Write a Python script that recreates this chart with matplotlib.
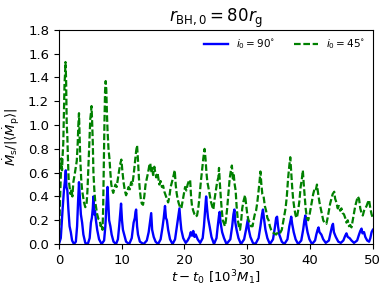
import numpy as np
import matplotlib
matplotlib.use("Agg")
from matplotlib import pyplot as plt

# i0 = 90 deg (solid blue)
t_90 = [0.0, 0.3, 0.6, 0.8, 1.0, 1.1, 1.2, 1.35, 1.5, 1.7, 1.9, 2.1, 2.4,
        2.7, 2.9, 3.05, 3.2, 3.35, 3.5, 3.7, 3.9, 4.2, 4.6,
        4.9, 5.1, 5.25, 5.4, 5.5, 5.6, 5.75, 5.9, 6.1, 6.4, 6.8,
        7.2, 7.4, 7.6, 7.75, 7.9, 8.0, 8.2, 8.4, 8.7, 9.1,
        9.4, 9.6, 9.8, 9.9, 10.05, 10.2, 10.4, 10.7, 11.2,
        11.6, 11.9, 12.1, 12.2, 12.3, 12.45, 12.6, 12.9, 13.5,
        14.0, 14.3, 14.55, 14.7, 14.85, 15.1, 15.4, 15.8,
        16.2, 16.5, 16.7, 16.9, 17.05, 17.2, 17.4, 17.7, 18.1,
        18.5, 18.8, 19.0, 19.2, 19.35, 19.5, 19.8, 20.2, 20.5,
        20.8, 21.0, 21.2, 21.4, 21.6, 21.8, 22.1, 22.5,
        22.9, 23.1, 23.3, 23.45, 23.6, 23.75, 24.0, 24.3, 24.7,
        25.1, 25.3, 25.5, 25.6, 25.75, 26.0, 26.3, 26.7,
        27.3, 27.6, 27.8, 27.95, 28.1, 28.3, 28.6, 29.0,
        29.5, 29.8, 30.0, 30.1, 30.25, 30.5, 30.9, 31.3,
        31.8, 32.1, 32.35, 32.5, 32.65, 32.9, 33.2, 33.6,
        34.1, 34.4, 34.6, 34.75, 34.9, 35.1, 35.5, 35.9,
        36.4, 36.7, 36.9, 37.0, 37.15, 37.4, 37.7, 38.1,
        38.6, 38.9, 39.1, 39.25, 39.4, 39.6, 39.9, 40.3,
        40.8, 41.0, 41.2, 41.35, 41.5, 41.8, 42.1, 42.5,
        43.0, 43.3, 43.5, 43.65, 43.8, 44.1, 44.5, 44.9,
        45.3, 45.6, 45.8, 46.0, 46.3, 46.6, 47.0,
        47.5, 47.8, 48.0, 48.2, 48.35, 48.6, 48.8, 49.1, 49.4,
        49.6, 49.8, 50.0]
m_90 = [0.0, 0.05, 0.3, 0.45, 0.55, 0.62, 0.48, 0.45, 0.3, 0.15, 0.1, 0.03, 0.0,
        0.02, 0.15, 0.35, 0.52, 0.38, 0.25, 0.18, 0.08, 0.01, 0.0,
        0.05, 0.18, 0.22, 0.3, 0.40, 0.25, 0.28, 0.2, 0.12, 0.04, 0.0,
        0.03, 0.15, 0.35, 0.48, 0.3, 0.2, 0.15, 0.08, 0.02, 0.0,
        0.04, 0.15, 0.28, 0.34, 0.2, 0.12, 0.08, 0.02, 0.0,
        0.05, 0.18, 0.22, 0.27, 0.29, 0.15, 0.08, 0.02, 0.0,
        0.03, 0.1, 0.2, 0.26, 0.12, 0.06, 0.02, 0.0,
        0.04, 0.14, 0.22, 0.32, 0.22, 0.2, 0.12, 0.04, 0.0,
        0.04, 0.15, 0.22, 0.30, 0.2, 0.12, 0.05, 0.01, 0.03,
        0.06, 0.1, 0.07, 0.11, 0.06, 0.08, 0.04, 0.01,
        0.05, 0.15, 0.3, 0.40, 0.3, 0.22, 0.15, 0.06, 0.0,
        0.05, 0.15, 0.24, 0.27, 0.18, 0.1, 0.05, 0.0,
        0.04, 0.15, 0.25, 0.29, 0.18, 0.12, 0.05, 0.0,
        0.04, 0.12, 0.18, 0.21, 0.12, 0.06, 0.01, 0.0,
        0.05, 0.15, 0.25, 0.29, 0.22, 0.12, 0.05, 0.0,
        0.04, 0.14, 0.22, 0.23, 0.15, 0.08, 0.02, 0.0,
        0.04, 0.15, 0.2, 0.23, 0.17, 0.1, 0.04, 0.0,
        0.03, 0.12, 0.2, 0.24, 0.16, 0.1, 0.04, 0.0,
        0.03, 0.08, 0.12, 0.14, 0.1, 0.08, 0.04, 0.01,
        0.03, 0.1, 0.15, 0.17, 0.1, 0.06, 0.02, 0.01,
        0.03, 0.07, 0.09, 0.06, 0.05, 0.03, 0.01,
        0.03, 0.08, 0.11, 0.13, 0.09, 0.1, 0.06, 0.03, 0.02,
        0.05, 0.1, 0.12]

# i0 = 45 deg (dashed green)
t_45 = [0.0, 0.1, 0.2, 0.3, 0.4, 0.5, 0.6, 0.7, 0.8, 0.9, 1.0, 1.05, 1.15, 1.25,
        1.35, 1.45, 1.55, 1.7, 1.85, 2.0, 2.15, 2.3, 2.5, 2.7, 2.85, 3.0, 3.1,
        3.2, 3.3, 3.4, 3.55, 3.7, 3.85, 4.0, 4.2, 4.4, 4.55, 4.7, 4.85, 5.0,
        5.1, 5.2, 5.3, 5.4, 5.5, 5.65, 5.8, 5.95, 6.1, 6.3, 6.5, 6.65, 6.8,
        6.95, 7.05, 7.15, 7.25, 7.35, 7.45, 7.55, 7.65, 7.75, 7.9, 8.05, 8.2,
        8.35, 8.5, 8.65, 8.8, 9.0, 9.2, 9.4, 9.6, 9.8, 9.95, 10.1, 10.3, 10.5,
        10.7, 10.9, 11.1, 11.3, 11.5, 11.7, 11.9, 12.1, 12.3, 12.45, 12.6,
        12.75, 12.9, 13.05, 13.2, 13.4, 13.6, 13.8, 14.0, 14.2, 14.4, 14.55,
        14.7, 14.85, 15.0, 15.2, 15.35, 15.5, 15.7, 15.85, 16.0, 16.2, 16.4,
        16.6, 16.8, 17.0, 17.2, 17.4, 17.6, 17.8, 18.0, 18.2, 18.45, 18.6,
        18.75, 18.9, 19.1, 19.3, 19.5, 19.7, 19.9, 20.1, 20.3, 20.5, 20.7,
        20.9, 21.05, 21.2, 21.4, 21.6, 21.8, 22.0, 22.2, 22.4, 22.6, 22.8,
        23.0, 23.2, 23.35, 23.5, 23.65, 23.8, 24.0, 24.2, 24.4, 24.6, 24.8,
        25.0, 25.2, 25.4, 25.5, 25.65, 25.8, 25.95, 26.1, 26.3, 26.45, 26.6,
        26.8, 27.0, 27.2, 27.4, 27.55, 27.7, 27.85, 28.0, 28.15, 28.3, 28.5,
        28.7, 28.85, 29.0, 29.2, 29.4, 29.65, 29.85, 30.0, 30.2, 30.4, 30.6,
        30.85, 31.0, 31.2, 31.4, 31.6, 31.8, 31.95, 32.1, 32.25, 32.4, 32.6,
        32.8, 33.0, 33.2, 33.4, 33.6, 33.8, 34.0, 34.3, 34.6, 34.9, 35.2,
        35.5, 35.7, 35.9, 36.1, 36.3, 36.5, 36.7, 36.85, 37.0, 37.15, 37.3,
        37.5, 37.7, 37.9, 38.1, 38.3, 38.5, 38.7, 38.85, 39.0, 39.15, 39.3,
        39.5, 39.7, 39.9, 40.1, 40.3, 40.5, 40.7, 40.9, 41.1, 41.3, 41.5,
        41.7, 41.9, 42.1, 42.3, 42.6, 42.8, 43.0, 43.2, 43.4, 43.6, 43.85,
        44.0, 44.2, 44.4, 44.6, 44.8, 45.0, 45.2, 45.4, 45.6, 45.8, 46.0,
        46.2, 46.4, 46.6, 46.8, 47.0, 47.2, 47.4, 47.6, 47.8, 48.0, 48.2,
        48.4, 48.6, 48.8, 49.0, 49.2, 49.4, 49.6, 49.8, 50.0]
m_45 = [0.0, 0.2, 0.4, 0.55, 0.72, 0.62, 0.75, 0.85, 1.1, 1.35, 1.45, 1.53, 1.38, 1.0,
        0.9, 0.7, 0.55, 0.48, 0.42, 0.46, 0.4, 0.52, 0.58, 0.65, 0.7, 0.85, 1.0,
        1.1, 0.9, 0.72, 0.55, 0.45, 0.4, 0.35, 0.31, 0.33, 0.45, 0.65, 0.85, 1.05,
        1.1, 1.16, 1.02, 0.85, 0.6, 0.45, 0.35, 0.3, 0.25, 0.21, 0.2, 0.15, 0.17,
        0.12, 0.3, 0.65, 1.0, 1.28, 1.37, 1.3, 1.1, 0.95, 0.8, 0.72, 0.6,
        0.5, 0.46, 0.43, 0.46, 0.5, 0.48, 0.55, 0.62, 0.68, 0.71, 0.62, 0.52, 0.45,
        0.41, 0.44, 0.48, 0.46, 0.52, 0.5, 0.58, 0.68, 0.78, 0.83, 0.7,
        0.55, 0.45, 0.38, 0.34, 0.33, 0.4, 0.5, 0.55, 0.6, 0.66, 0.68,
        0.6, 0.64, 0.58, 0.65, 0.6, 0.56, 0.6, 0.55, 0.5, 0.53, 0.48,
        0.49, 0.44, 0.41, 0.38, 0.35, 0.4, 0.48, 0.52, 0.56, 0.62, 0.5,
        0.43, 0.38, 0.34, 0.31, 0.3, 0.36, 0.42, 0.48, 0.45, 0.5, 0.53,
        0.54, 0.4, 0.32, 0.28, 0.25, 0.23, 0.24, 0.3, 0.4, 0.52, 0.62,
        0.72, 0.8, 0.72, 0.6, 0.52, 0.48, 0.42, 0.36, 0.32, 0.29, 0.38,
        0.45, 0.52, 0.56, 0.64, 0.5, 0.38, 0.28, 0.2, 0.17, 0.15, 0.2,
        0.3, 0.42, 0.55, 0.62, 0.66, 0.55, 0.58, 0.5, 0.45, 0.32, 0.2,
        0.14, 0.12, 0.18, 0.3, 0.36, 0.41, 0.32, 0.25, 0.2, 0.18, 0.15,
        0.15, 0.2, 0.25, 0.28, 0.35, 0.45, 0.52, 0.61, 0.5, 0.42, 0.4,
        0.32, 0.28, 0.22, 0.2, 0.15, 0.12, 0.1, 0.09, 0.08, 0.1, 0.09,
        0.12, 0.18, 0.24, 0.3, 0.4, 0.55, 0.66, 0.73, 0.6, 0.48, 0.38,
        0.3, 0.24, 0.22, 0.28, 0.36, 0.48, 0.55, 0.62, 0.5, 0.4, 0.3,
        0.22, 0.2, 0.24, 0.3, 0.36, 0.42, 0.46, 0.45, 0.5, 0.42, 0.35,
        0.3, 0.25, 0.2, 0.18, 0.17, 0.22, 0.28, 0.34, 0.38, 0.42, 0.44,
        0.38, 0.35, 0.3, 0.32, 0.28, 0.3, 0.26, 0.25, 0.22, 0.18, 0.2,
        0.15, 0.16, 0.14, 0.2, 0.26, 0.32, 0.36, 0.4, 0.38, 0.3, 0.26,
        0.24, 0.28, 0.3, 0.32, 0.35, 0.37, 0.3, 0.25, 0.22]

fig = plt.figure(figsize=(3.9, 2.93), dpi=100)
ax = fig.add_axes([0.151, 0.167, 0.805, 0.731])

ax.plot(t_90, m_90, 'b-', lw=1.7, label=r'$i_0 = 90^{\circ}$')
ax.plot(t_45, m_45, 'g--', lw=1.6, dashes=(3.0, 1.2), label=r'$i_0 = 45^{\circ}$')

ax.set_xlim(0, 50)
ax.set_ylim(0, 1.8)
ax.set_xticks([0, 10, 20, 30, 40, 50])
ax.set_yticks(np.arange(0, 1.81, 0.2))
ax.tick_params(labelsize=9.5)
ax.set_xlabel(r'$t-t_0\ [10^3 M_1]$', fontsize=9.5, labelpad=1)
ax.set_ylabel(r'$\dot{M}_{\rm s}/|\langle\dot{M}_{\rm p}\rangle|$', fontsize=9.5, labelpad=4)
ax.set_title(r'$r_{\rm BH,0} = 80 r_{\rm g}$', fontsize=12, pad=4)
ax.legend(loc='upper right', ncol=2, frameon=False, fontsize=7.5,
          handlelength=2.3, columnspacing=1.8, borderaxespad=0.3)

fig.savefig('out.png', dpi=100)
